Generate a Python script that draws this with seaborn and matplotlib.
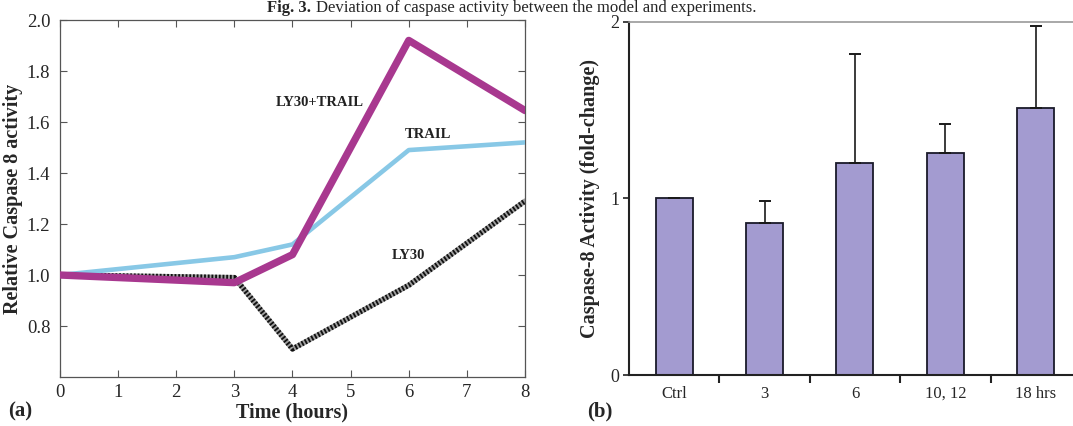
import numpy as np
import pandas as pd
import matplotlib
matplotlib.use("Agg")
import matplotlib.pyplot as plt
import seaborn as sns

# ---- data: panel (a) ----
hours = [0, 3, 4, 6, 8]
trail = [1.00, 1.07, 1.12, 1.49, 1.52]
ly30_trail = [1.00, 0.97, 1.08, 1.92, 1.645]
ly30 = [1.00, 0.99, 0.71, 0.96, 1.29]
x_ticks_a = [0, 1, 2, 3, 4, 5, 6, 7, 8]
y_ticks_a = [0.8, 1.0, 1.2, 1.4, 1.6, 1.8, 2.0]

# ---- data: panel (b) ----
groups = ["Ctrl", "3", "6", "10, 12", "18 hrs"]
fold_change = [1.00, 0.86, 1.20, 1.26, 1.51]
fold_err = [0.005, 0.125, 0.62, 0.16, 0.47]
y_ticks_b = [0, 1, 2]

title_bold = "Fig. 3."
title_rest = "Deviation of caspase activity between the model and experiments."

sns.set_style("ticks")
plt.rcParams["font.family"] = ["Liberation Serif", "DejaVu Serif"]

fig = plt.figure(figsize=(10.73, 4.26), dpi=100)
ax1 = fig.add_axes([0.0559, 0.115, 0.4334, 0.838])
ax2 = fig.add_axes([0.5862, 0.1197, 0.4212, 0.8287])

df = pd.DataFrame({"hours": hours, "TRAIL": trail, "LY30+TRAIL": ly30_trail, "LY30": ly30})

purple = "#A8388F"
blue = "#88C8E6"

# LY30: hatched look (grey base + black fine dashes)
sns.lineplot(data=df, x="hours", y="LY30", ax=ax1, color="#a0a0a0", lw=3.8, zorder=2)
sns.lineplot(data=df, x="hours", y="LY30", ax=ax1, color="#111111", lw=3.8,
             linestyle=(0, (0.35, 0.35)), zorder=2.1)
sns.lineplot(data=df, x="hours", y="TRAIL", ax=ax1, color=blue, lw=3.3, zorder=3)
sns.lineplot(data=df, x="hours", y="LY30+TRAIL", ax=ax1, color=purple, lw=5.3, zorder=4)

ax1.set_xlim(0, 8)
ax1.set_ylim(0.6, 2.0)
ax1.set_xticks(x_ticks_a)
ax1.set_yticks(y_ticks_a)
ax1.set_yticklabels([f"{v:.1f}" for v in y_ticks_a])
ax1.tick_params(direction="in", top=True, right=True, length=5, labelsize=13.5,
                color="#555555", width=0.8)
ax1.tick_params(axis="y", pad=7)
ax1.tick_params(axis="x", pad=5)
for s in ax1.spines.values():
    s.set_color("#555555")
    s.set_linewidth(0.9)
ax1.set_xlabel("Time (hours)", fontsize=14.5, fontweight="bold", labelpad=1)
ax1.set_ylabel("Relative Caspase 8 activity", fontsize=14.5, fontweight="bold", labelpad=3)

ax1.text(4.47, 1.675, "LY30+TRAIL", fontsize=10.5, fontweight="bold", ha="center", va="center", color="#222222")
ax1.text(6.33, 1.55, "TRAIL", fontsize=10.5, fontweight="bold", ha="center", va="center", color="#222222")
ax1.text(5.99, 1.077, "LY30", fontsize=10.5, fontweight="bold", ha="center", va="center", color="#222222")

# ---- panel (b) ----
dfb = pd.DataFrame({"group": groups, "fold": fold_change})
sns.barplot(data=dfb, x="group", y="fold", ax=ax2, color="#A39BD0", saturation=1,
            edgecolor="#1a1a2a", linewidth=1.3, width=0.41, zorder=2)
pos = np.arange(len(groups))
ax2.errorbar(pos, fold_change, yerr=[np.zeros(len(groups)), fold_err], fmt="none",
             ecolor="#1a1a1a", elinewidth=1.2, capsize=4, capthick=1.4, zorder=3)
ax2.set_xlim(-0.5, len(groups) - 0.5)
ax2.set_ylim(0, 2)
ax2.set_yticks(y_ticks_b)
ax2.set_xticks(pos)
ax2.set_xticklabels(groups, fontsize=12)
ax2.set_xticks(pos[:-1] + 0.5, minor=True)
ax2.tick_params(axis="x", which="major", length=0, pad=8)
ax2.tick_params(axis="x", which="minor", length=6, width=1.5, direction="out", color="#222222")
ax2.tick_params(axis="y", length=4, width=1.2, labelsize=13, color="#222222", pad=3)
ax2.spines["left"].set_color("#222222")
ax2.spines["left"].set_linewidth(1.5)
ax2.spines["bottom"].set_color("#222222")
ax2.spines["bottom"].set_linewidth(1.5)
ax2.spines["top"].set_color("#999999")
ax2.spines["top"].set_linewidth(1.2)
ax2.spines["right"].set_visible(False)
ax2.set_xlabel("")
ax2.set_ylabel("Caspase-8 Activity (fold-change)", fontsize=14.5, fontweight="bold", labelpad=7)

fig.text(8 / 1073, 1 - 411 / 426, "(a)", fontsize=15, fontweight="bold", va="center", ha="left")
fig.text(587 / 1073, 1 - 411 / 426, "(b)", fontsize=15, fontweight="bold", va="center", ha="left")

fig.text(311 / 1073, 1 - 12 / 426, title_bold, fontsize=12, fontweight="bold", ha="right", va="baseline")
fig.text(316 / 1073, 1 - 12 / 426, title_rest, fontsize=12, ha="left", va="baseline")

fig.savefig("out.png", dpi=100)
